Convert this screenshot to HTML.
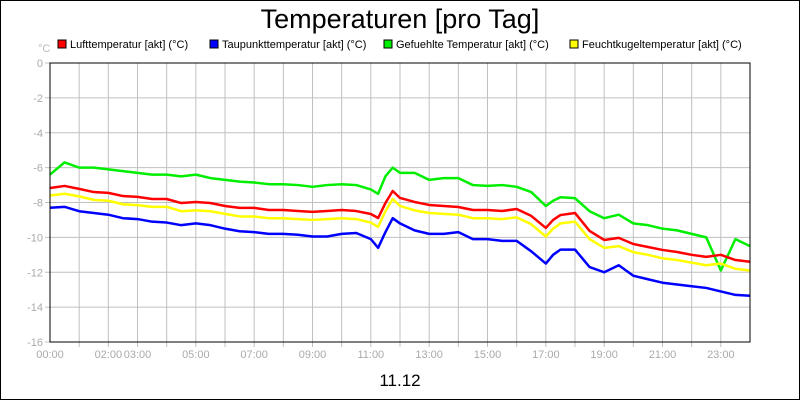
<!DOCTYPE html>
<html><head><meta charset="utf-8"><style>
body{margin:0;background:#fff}
svg{display:block;font-family:"Liberation Sans",sans-serif}
</style></head><body>
<svg id="chart" width="800" height="400">
<rect x="0.5" y="0.5" width="799" height="399" fill="#fff" stroke="#000"/>
<text x="400" y="28" font-size="27" text-anchor="middle">Temperaturen [pro Tag]</text>
<text x="38" y="52" font-size="11" fill="#bbb">°C</text>
<g id="legend"></g>
<g id="grid"></g>
<g id="series"></g>
<rect x="50" y="63" width="700" height="279" fill="none" stroke="#000"/>
<g id="axes"></g>
<text x="400" y="386" font-size="17" text-anchor="middle">11.12</text>
</svg>
<script>
const hours=[0,0.5,1,1.5,2,2.5,3,3.5,4,4.5,5,5.5,6,6.5,7,7.5,8,8.5,9,9.5,10,10.5,11,11.25,11.5,11.75,12,12.5,13,13.5,14,14.5,15,15.5,16,16.5,17,17.25,17.5,18,18.5,19,19.5,20,20.5,21,21.5,22,22.5,23,23.5,24];
const luft=[-7.17,-7.05,-7.22,-7.4,-7.45,-7.63,-7.68,-7.8,-7.8,-8.03,-7.97,-8.03,-8.2,-8.31,-8.31,-8.43,-8.43,-8.49,-8.54,-8.49,-8.43,-8.49,-8.66,-8.89,-8.03,-7.34,-7.74,-7.97,-8.14,-8.2,-8.26,-8.43,-8.43,-8.49,-8.37,-8.77,-9.46,-9.0,-8.72,-8.6,-9.63,-10.15,-10.03,-10.38,-10.55,-10.72,-10.84,-11.0,-11.12,-11.0,-11.3,-11.4];
const taupunkt=[-8.3,-8.25,-8.5,-8.6,-8.7,-8.9,-8.95,-9.1,-9.15,-9.3,-9.2,-9.3,-9.5,-9.65,-9.7,-9.8,-9.8,-9.85,-9.95,-9.95,-9.8,-9.75,-10.1,-10.6,-9.7,-8.9,-9.2,-9.6,-9.8,-9.8,-9.7,-10.1,-10.1,-10.2,-10.2,-10.8,-11.5,-11.0,-10.7,-10.7,-11.7,-12.0,-11.6,-12.2,-12.4,-12.6,-12.7,-12.8,-12.9,-13.1,-13.3,-13.35];
const gefuehlt=[-6.4,-5.7,-6.0,-6.0,-6.1,-6.2,-6.3,-6.4,-6.4,-6.5,-6.4,-6.6,-6.7,-6.8,-6.85,-6.95,-6.95,-7.0,-7.1,-7.0,-6.95,-7.0,-7.25,-7.5,-6.5,-6.0,-6.3,-6.3,-6.7,-6.6,-6.6,-7.0,-7.05,-7.0,-7.1,-7.4,-8.2,-7.9,-7.7,-7.75,-8.5,-8.9,-8.7,-9.2,-9.3,-9.5,-9.6,-9.8,-10.0,-11.9,-10.1,-10.5];
const feucht=[-7.6,-7.5,-7.65,-7.85,-7.9,-8.1,-8.15,-8.25,-8.25,-8.5,-8.45,-8.5,-8.65,-8.8,-8.8,-8.9,-8.9,-8.95,-9.0,-8.95,-8.9,-8.95,-9.15,-9.4,-8.5,-7.8,-8.2,-8.45,-8.6,-8.65,-8.7,-8.9,-8.9,-8.95,-8.85,-9.25,-9.95,-9.5,-9.2,-9.1,-10.1,-10.6,-10.5,-10.85,-11.0,-11.2,-11.3,-11.45,-11.6,-11.5,-11.8,-11.9];
const yTicks=[0,-2,-4,-6,-8,-10,-12,-14,-16];
const xTickHours=[0,2,3,5,7,9,11,13,15,17,19,21,23];
const xTickLabels=["00:00","02:00","03:00","05:00","07:00","09:00","11:00","13:00","15:00","17:00","19:00","21:00","23:00"];
const legendLabels=["Lufttemperatur [akt] (°C)","Taupunkttemperatur [akt] (°C)","Gefuehlte Temperatur [akt] (°C)","Feuchtkugeltemperatur [akt] (°C)"];
const legendX=[58,210,384,570];
const colors=["#f00","#00f","#0e0","#ff0"];
const names=["luft","taupunkt","gefuehlt","feucht"];
const NS="http://www.w3.org/2000/svg";
const X=h=>50+h/24*700, Y=v=>63+(-v)/16*279;
function mk(t,a,p){const e=document.createElementNS(NS,t);for(const k in a)e.setAttribute(k,a[k]);p.appendChild(e);return e;}
const grid=document.getElementById('grid'),axes=document.getElementById('axes'),ser=document.getElementById('series'),leg=document.getElementById('legend');
for(let h=1;h<24;h++){const l=mk('line',{x1:X(h),x2:X(h),y1:63,y2:347,stroke:'#c0c0c0'},grid);

}
yTicks.forEach(v=>{const l=mk('line',{x1:45,x2:750,y1:Y(v),y2:Y(v),stroke:'#c0c0c0'},grid);


const t=mk('text',{x:43,y:Y(v)+4,'font-size':11,fill:'#aaa','text-anchor':'end'},axes);t.textContent=v;

});
xTickHours.forEach((h,i)=>{const t=mk('text',{x:X(h),y:358,'font-size':11,fill:'#aaa','text-anchor':'middle'},axes);t.textContent=xTickLabels[i];

});
[luft,taupunkt,gefuehlt,feucht].forEach((d,i)=>{const p=mk('polyline',{points:d.map((v,j)=>X(hours[j])+','+Y(v)).join(' '),fill:'none',stroke:colors[i],'stroke-width':2.5,'stroke-linejoin':'round'},ser);

});
[2,0,3,1].forEach(i=>ser.appendChild(ser.children[i]));
legendLabels.forEach((s,i)=>{const g=mk('g',{},leg);


mk('rect',{x:legendX[i],y:40,width:8,height:8,fill:colors[i],stroke:'#000'},g);
const t=mk('text',{x:legendX[i]+12,y:48,'font-size':11},g);t.textContent=s;});
</script>
</body></html>
